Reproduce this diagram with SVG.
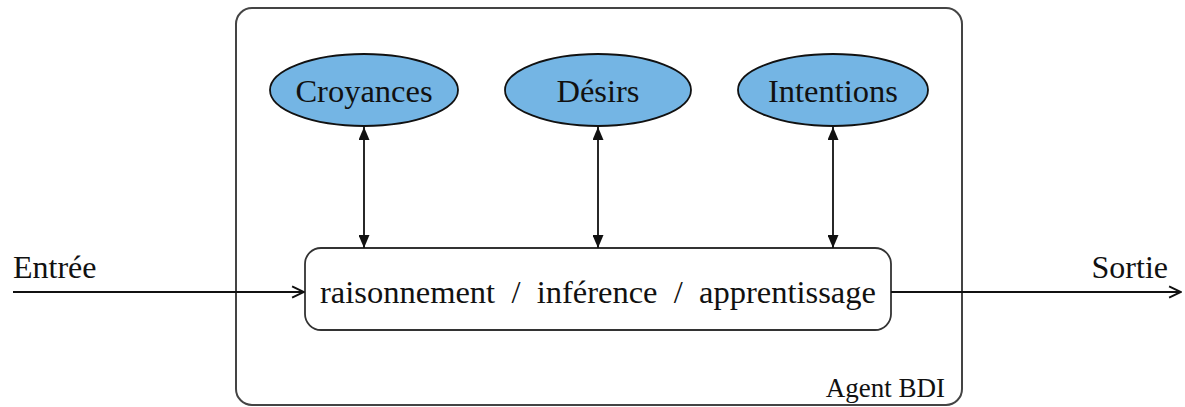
<svg xmlns="http://www.w3.org/2000/svg" width="1185" height="407" viewBox="0 0 1185 407">
  <style>
    text { font-family: "Liberation Serif", "Times New Roman", serif; fill: #111; }
    .belief { fill: #74b5e4; stroke: #111; stroke-width: 1.8; }
    .box { fill: #fff; stroke: #333; stroke-width: 1.8; }
    .agent { fill: none; stroke: #444; stroke-width: 2; }
    .edge { fill: none; stroke: #111; stroke-width: 1.8; }
  </style>
  <defs>
    <marker id="solid" viewBox="0 0 10 10" refX="10" refY="5" markerWidth="13" markerHeight="11" orient="auto-start-reverse" markerUnits="userSpaceOnUse" preserveAspectRatio="none">
      <path d="M0,0 L10,5 L0,10 Z" fill="#111"/>
    </marker>
    <marker id="open" viewBox="0 0 10 10" refX="9.5" refY="5" markerWidth="14" markerHeight="14" orient="auto" markerUnits="userSpaceOnUse">
      <path d="M1,1 L9.5,5 L1,9" fill="none" stroke="#111" stroke-width="1.4"/>
    </marker>
  </defs>

  <g id="agent">
    <rect class="agent" x="236" y="8" width="726" height="397" rx="16"/>
    <text x="945" y="397" font-size="27" text-anchor="end">Agent BDI</text>
  </g>

  <g id="croyances">
    <ellipse class="belief" cx="364" cy="90" rx="94" ry="36"/>
    <text x="364" y="102" font-size="32.5" text-anchor="middle">Croyances</text>
  </g>
  <g id="desirs">
    <ellipse class="belief" cx="598" cy="90" rx="93" ry="36"/>
    <text x="598" y="102" font-size="32.5" text-anchor="middle">Désirs</text>
  </g>
  <g id="intentions">
    <ellipse class="belief" cx="833" cy="90" rx="95" ry="36"/>
    <text x="833" y="102" font-size="32.5" text-anchor="middle">Intentions</text>
  </g>

  <g id="raisonnement">
    <rect class="box" x="305" y="248" width="586" height="82" rx="16"/>
    <text x="598" y="303" font-size="32.5" text-anchor="middle" xml:space="preserve">raisonnement  /  inférence  /  apprentissage</text>
  </g>

  <g id="entree">
    <text x="13" y="278" font-size="32">Entrée</text>
  </g>
  <g id="sortie">
    <text x="1168" y="278" font-size="32" text-anchor="end">Sortie</text>
  </g>

  <g id="connectors">
    <line class="edge" x1="364" y1="127" x2="364" y2="248" marker-start="url(#solid)" marker-end="url(#solid)"/>
    <line class="edge" x1="598" y1="127" x2="598" y2="248" marker-start="url(#solid)" marker-end="url(#solid)"/>
    <line class="edge" x1="833" y1="127" x2="833" y2="248" marker-start="url(#solid)" marker-end="url(#solid)"/>
    <line class="edge" x1="13" y1="292" x2="304" y2="292" marker-end="url(#open)"/>
    <line class="edge" x1="891" y1="292" x2="1181" y2="292" marker-end="url(#open)"/>
  </g>
</svg>
